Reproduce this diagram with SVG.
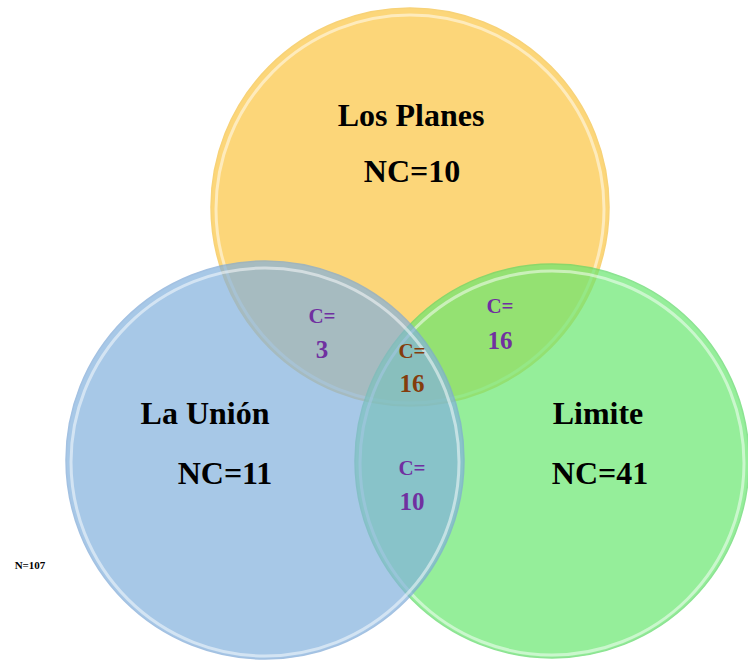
<svg xmlns="http://www.w3.org/2000/svg" width="748" height="666" viewBox="0 0 748 666">
<style>
.c{opacity:0.7;stroke-width:1.5}
.h{fill:none;stroke:#ffffff;stroke-opacity:0.5;stroke-width:3}
.t{font-family:"Liberation Serif","Times New Roman",serif;font-weight:bold;text-anchor:middle;fill:#000}
.p{font-family:"Liberation Serif","Times New Roman",serif;font-weight:bold;text-anchor:middle;fill:#7030A0}
.b{fill:#843C0C}
</style>
<rect width="748" height="666" fill="#ffffff"/>
<g id="los-planes">
<circle class="c" cx="410" cy="207" r="199" fill="#FCC641" stroke="#F5C040"/>
<circle class="h" cx="410" cy="209" r="194"/>
</g>
<g id="limite">
<circle class="c" cx="552" cy="461" r="197" fill="#69E770" stroke="#5CD865"/>
<circle class="h" cx="552" cy="463" r="192"/>
</g>
<g id="la-union">
<circle class="c" cx="265" cy="460" r="199" fill="#83B1DE" stroke="#7DA8D6"/>
<circle class="h" cx="265" cy="462" r="194"/>
</g>
<g id="labels">
<text class="t" x="411" y="126" font-size="32">Los Planes</text>
<text class="t" x="412" y="182" font-size="32">NC=10</text>
<text class="t" x="205" y="424" font-size="32">La Unión</text>
<text class="t" x="225" y="484" font-size="32">NC=11</text>
<text class="t" x="598" y="424" font-size="32">Limite</text>
<text class="t" x="600" y="484" font-size="32">NC=41</text>
<text class="p" x="322" y="323" font-size="21">C=</text>
<text class="p" x="322" y="358" font-size="25">3</text>
<text class="p b" x="412" y="358" font-size="21">C=</text>
<text class="p b" x="412" y="392" font-size="25">16</text>
<text class="p" x="500" y="313" font-size="21">C=</text>
<text class="p" x="500" y="349" font-size="25">16</text>
<text class="p" x="412" y="475" font-size="21">C=</text>
<text class="p" x="412" y="510" font-size="25">10</text>
<text class="t" x="30" y="569" font-size="11">N=107</text>
</g>
<g id="connectors"></g>
</svg>
